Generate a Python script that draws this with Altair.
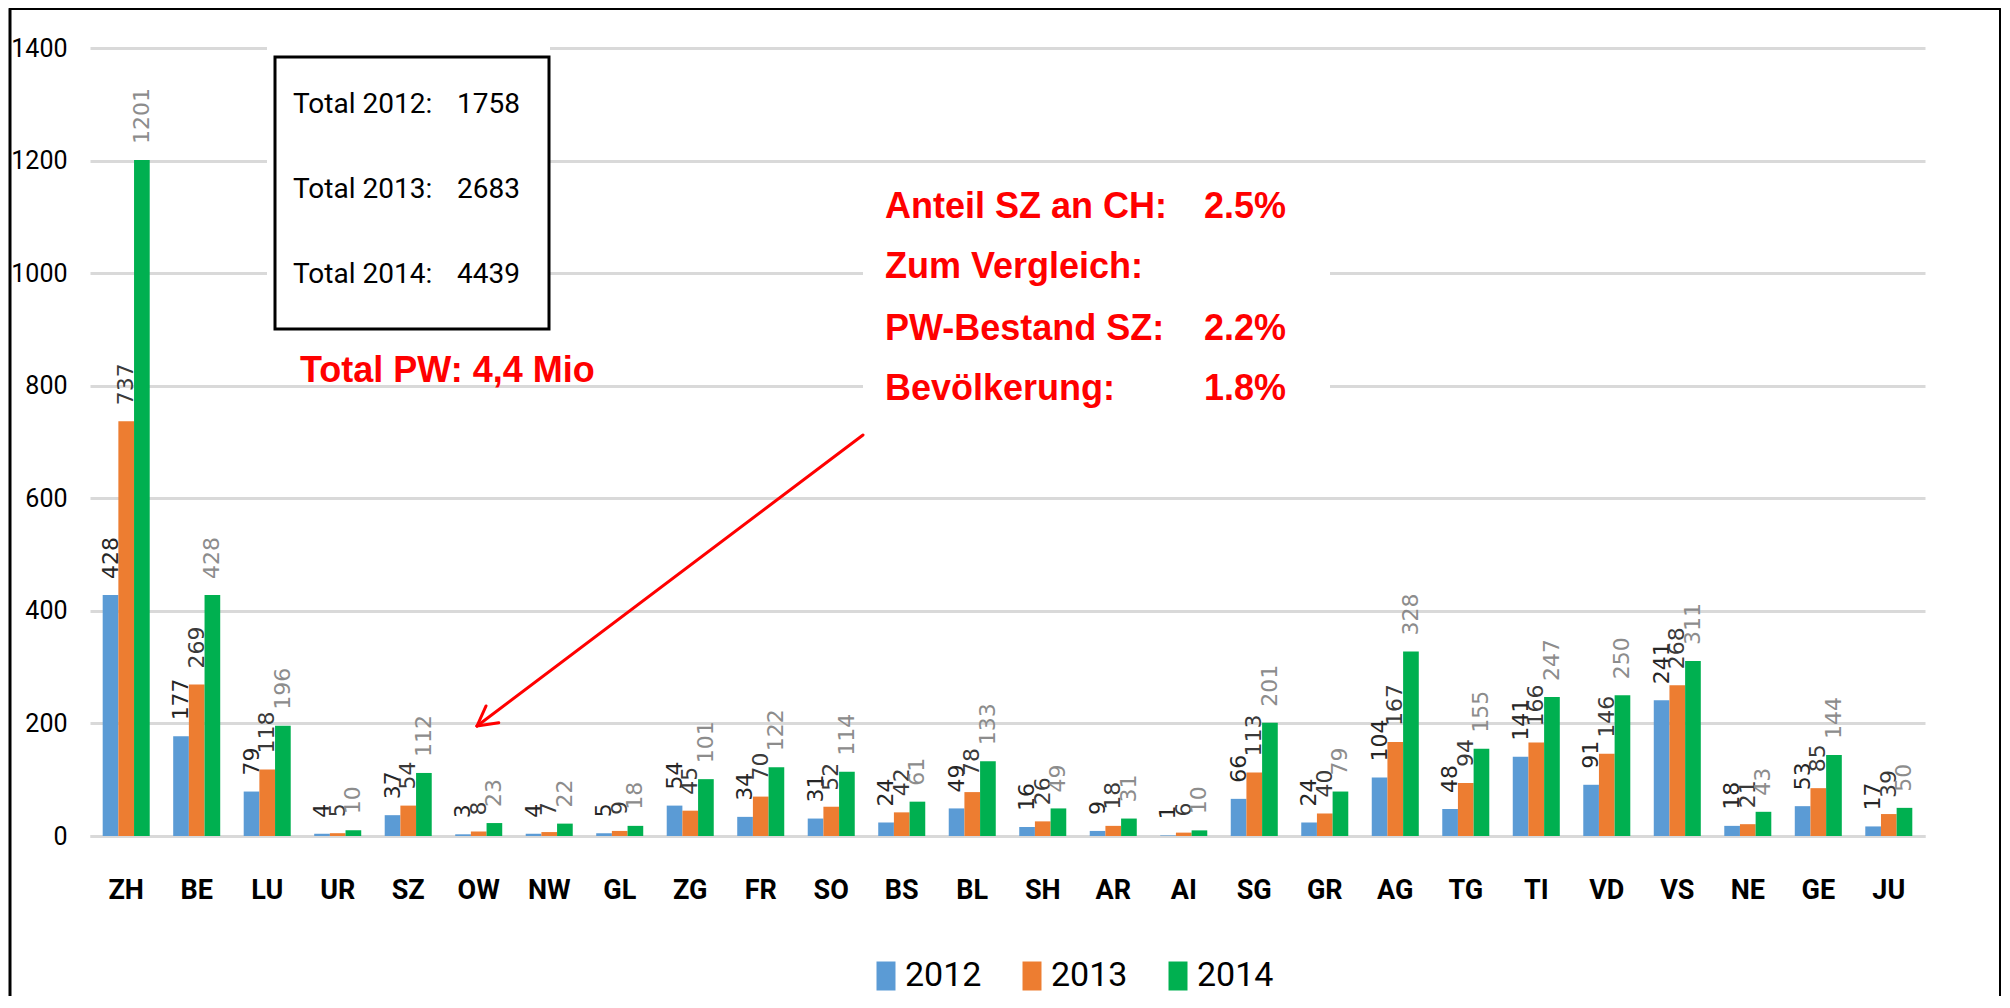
import math
import altair as alt
import pandas as pd

# ---------------- data ----------------
cantons = ["ZH", "BE", "LU", "UR", "SZ", "OW", "NW", "GL", "ZG", "FR", "SO", "BS", "BL",
           "SH", "AR", "AI", "SG", "GR", "AG", "TG", "TI", "VD", "VS", "NE", "GE", "JU"]
years = ["2012", "2013", "2014"]
v2012 = [428, 177, 79, 4, 37, 3, 4, 5, 54, 34, 31, 24, 49, 16, 9, 1, 66, 24, 104, 48, 141, 91, 241, 18, 53, 17]
v2013 = [737, 269, 118, 5, 54, 8, 7, 9, 45, 70, 52, 42, 78, 26, 18, 6, 113, 40, 167, 94, 166, 146, 268, 21, 85, 39]
v2014 = [1201, 428, 196, 10, 112, 23, 22, 18, 101, 122, 114, 61, 133, 49, 31, 10, 201, 79, 328, 155, 247, 250, 311, 43, 144, 50]
y_ticks = [0, 200, 400, 600, 800, 1000, 1200, 1400]

total_labels = ["Total 2012:", "Total 2013:", "Total 2014:"]
total_values = ["1758", "2683", "4439"]
total_pw = "Total PW: 4,4 Mio"
red_lines = ["Anteil SZ an CH:", "Zum Vergleich:", "PW-Bestand SZ:", "Bevölkerung:"]
red_values = ["2.5%", "", "2.2%", "1.8%"]

# ---------------- styles & layout ----------------
bar_colors = ["#5B9BD5", "#ED7D31", "#00B050"]
label_colors = ["#262626", "#3a3a3a", "#8c8c8c"]
NARROW = "Roboto, sans-serif"
ARIAL = "Liberation Sans, Arial, sans-serif"
W, H = 1835, 788

# positions relative to plot origin
layout = {
    "box_bg": (177, 460, -8, 292),
    "box": (185, 459, 9, 281),
    "tot_x": 203, "tot_vx": 367, "tot_y": [65, 150, 235],
    "pw": (210, 334),
    "red_bg": (773, 1240, 127, 372),
    "red_x": 795, "red_vx": 1114, "red_y": [170, 230, 292, 352],
    "arrow": (773, 387, 387, 678),
    "frame_left": -80, "frame_right": 1910, "frame_top": -39, "frame_bottom": 960,
}

rows = []
for c, a, b, d in zip(cantons, v2012, v2013, v2014):
    rows.append({"canton": c, "year": "2012", "value": a})
    rows.append({"canton": c, "year": "2013", "value": b})
    rows.append({"canton": c, "year": "2014", "value": d})
df = pd.DataFrame(rows)

base = alt.Chart(df)

x_enc = alt.X("canton:N", sort=cantons,
              scale=alt.Scale(paddingInner=0.333, paddingOuter=0.18),
              axis=alt.Axis(title=None, labelAngle=0, domain=True, domainColor="#d9d9d9",
                            domainWidth=3, ticks=False, tickSize=0, grid=False,
                            labelFont=NARROW, labelFontWeight="bold", labelFontSize=27,
                            labelColor="#000000", labelPadding=62, labelBaseline="alphabetic"))
xo_enc = alt.XOffset("year:N", scale=alt.Scale(domain=years, paddingInner=0, paddingOuter=0))
y_enc = alt.Y("value:Q", scale=alt.Scale(domain=[0, 1400], nice=False, zero=True),
              axis=alt.Axis(title=None, values=y_ticks, format="d", grid=True, gridColor="#d9d9d9",
                            gridWidth=3, domain=False, ticks=False, tickSize=0,
                            labelFont=NARROW, labelFontSize=25, labelColor="#000000",
                            labelPadding=23))

bars = base.mark_bar(strokeWidth=0).encode(
    x=x_enc, xOffset=xo_enc, y=y_enc,
    color=alt.Color("year:N", scale=alt.Scale(domain=years, range=bar_colors),
                    legend=alt.Legend(orient="none", legendX=779, legendY=911,
                                      direction="horizontal", title=None,
                                      symbolType="M-0.655,-1H0.655V1H-0.655Z",
                                      symbolSize=841, symbolStrokeWidth=0, symbolOpacity=1,
                                      labelFont=NARROW, labelFontSize=34, labelColor="#000000",
                                      labelOffset=2, columnPadding=33, padding=0)),
)

labels = base.mark_text(angle=270, align="left", baseline="middle", dx=16,
                        font="DejaVu Sans", fontSize=22).encode(
    x=x_enc, xOffset=xo_enc, y=y_enc,
    text=alt.Text("value:Q"),
    color=alt.Color("year:N", scale=alt.Scale(domain=years, range=label_colors), legend=None),
)

one = alt.Data(values=[{"a": 1}])


def rect(x1, x2, y1, y2, fill, stroke=None, sw=0):
    kw = dict(fill=fill, strokeWidth=sw)
    if stroke:
        kw["stroke"] = stroke
    return alt.Chart(one).mark_rect(**kw).encode(
        x=alt.value(x1), x2=alt.value(x2), y=alt.value(y1), y2=alt.value(y2))


def text(s, x, y, font, size, color, weight="normal"):
    return alt.Chart(one).mark_text(text=s, align="left", baseline="alphabetic", font=font,
                                    fontSize=size, fontWeight=weight, color=color).encode(
        x=alt.value(x), y=alt.value(y))


def rule(x1, y1, x2, y2, color, sw):
    return alt.Chart(one).mark_rule(color=color, strokeWidth=sw, strokeCap="round").encode(
        x=alt.value(x1), y=alt.value(y1), x2=alt.value(x2), y2=alt.value(y2))


anno = []
L = layout
# outer frame
anno.append(rule(L["frame_left"], L["frame_top"], L["frame_left"], L["frame_bottom"], "#000000", 3))
anno.append(rule(L["frame_left"], L["frame_top"], L["frame_right"], L["frame_top"], "#000000", 2))
anno.append(rule(L["frame_right"], L["frame_top"], L["frame_right"], L["frame_bottom"], "#000000", 2))

# totals box
bx = L["box_bg"]
anno.append(rect(bx[0], bx[1], bx[2], bx[3], "#ffffff"))
b = L["box"]
anno.append(rect(b[0], b[1], b[2], b[3], "transparent", "#000000", 3))
for lab, val, yy in zip(total_labels, total_values, L["tot_y"]):
    anno.append(text(lab, L["tot_x"], yy, NARROW, 28, "#000000"))
    anno.append(text(val, L["tot_vx"], yy, NARROW, 28, "#000000"))

anno.append(text(total_pw, L["pw"][0], L["pw"][1], ARIAL, 36, "#ff0000", "bold"))

# red text block
rb = L["red_bg"]
anno.append(rect(rb[0], rb[1], rb[2], rb[3], "#ffffff"))
for lab, val, yy in zip(red_lines, red_values, L["red_y"]):
    anno.append(text(lab, L["red_x"], yy, ARIAL, 36, "#ff0000", "bold"))
    if val:
        anno.append(text(val, L["red_vx"], yy, ARIAL, 36, "#ff0000", "bold"))

# arrow
x1, y1, x2, y2 = L["arrow"]
anno.append(rule(x1, y1, x2, y2, "#ff0000", 3))
ang = math.atan2(y1 - y2, x1 - x2)
for da in (-0.5, 0.5):
    anno.append(rule(x2, y2, x2 + 22 * math.cos(ang + da), y2 + 22 * math.sin(ang + da), "#ff0000", 3))

chart = alt.layer(bars, labels, *anno).resolve_scale(color="independent").properties(
    width=W, height=H,
    autosize=alt.AutoSizeParams(type="none"),
    padding={"left": 82, "top": 40, "right": 77, "bottom": 160},
    background="#ffffff",
).configure_view(stroke=None)

chart.save("out.html", embed_options={"renderer": "svg", "actions": False})
